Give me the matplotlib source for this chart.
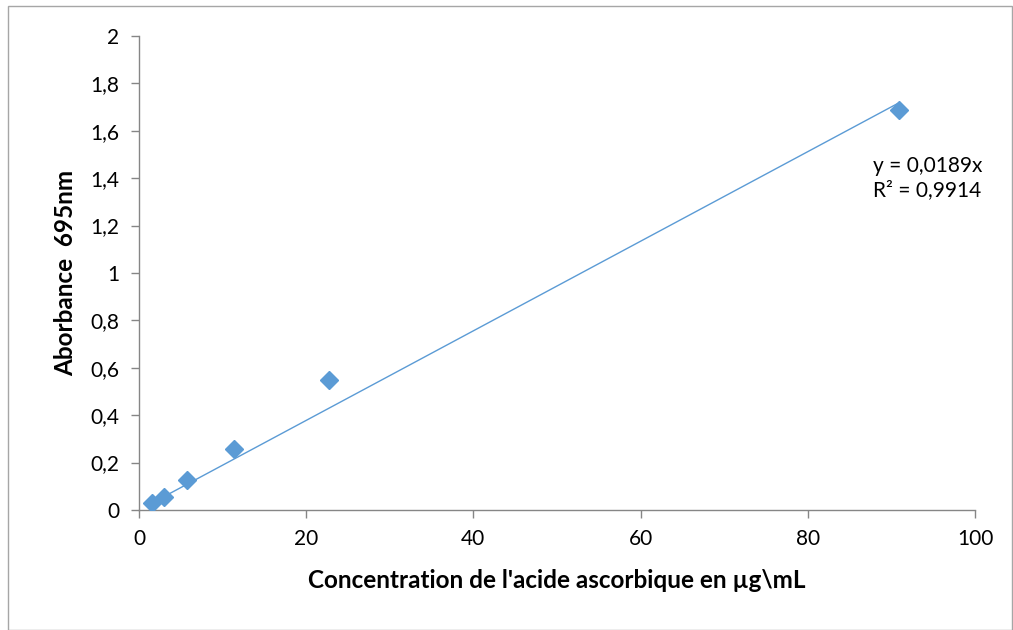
import matplotlib

matplotlib.use("Agg")
import matplotlib.pyplot as plt
import numpy as np
from matplotlib.patches import Rectangle
from matplotlib.ticker import FuncFormatter, MultipleLocator

plt.rcParams["font.family"] = ["Lato", "DejaVu Sans"]

# Ascorbic acid standard curve (µg/mL vs absorbance at 695 nm)
concentration = [1.5, 3.0, 5.7, 11.36, 22.7, 90.9]
absorbance = [0.03, 0.055, 0.127, 0.257, 0.548, 1.688]
slope = 0.0189
r_squared = 0.9914

blue = "#5B9BD5"
axis_grey = "#868686"

fig = plt.figure(figsize=(10.13, 6.30), dpi=100)
ax = fig.add_axes([0.1372, 0.1905, 0.8253, 0.7524])

x_fit = np.array([min(concentration), max(concentration)])
ax.plot(x_fit, slope * x_fit, color=blue, linewidth=1.0, zorder=2)
ax.plot(concentration, absorbance, linestyle="none", marker="D", markersize=9,
        color=blue, zorder=3)

ax.set_xlim(0, 100)
ax.set_ylim(0, 2)
ax.xaxis.set_major_locator(MultipleLocator(20))
ax.yaxis.set_major_locator(MultipleLocator(0.2))
comma = FuncFormatter(lambda v, _: f"{v:g}".replace(".", ","))
ax.xaxis.set_major_formatter(comma)
ax.yaxis.set_major_formatter(comma)

for side in ("top", "right"):
    ax.spines[side].set_visible(False)
for side in ("left", "bottom"):
    ax.spines[side].set_color(axis_grey)
    ax.spines[side].set_linewidth(1.0)
ax.tick_params(direction="out", length=6, width=1.0, color=axis_grey,
               labelsize=15, pad=8)

ax.set_xlabel("Concentration de l'acide ascorbique en µg\\mL", fontsize=17.5,
              fontweight="bold", labelpad=14)
ax.set_ylabel("Aborbance  695nm", fontsize=17.5, fontweight="bold", labelpad=10)

eq = f"y = {slope:g}x".replace(".", ",") + "\n" + f"R² = {r_squared:g}".replace(".", ",")
ax.text(87.8, 1.40, eq, fontsize=15, ha="left", va="center", linespacing=1.3)

# outer chart border
fig.patches.append(Rectangle((8 / 1013, 0), 1 - 9 / 1013, 1 - 6 / 630,
                             transform=fig.transFigure, fill=False,
                             edgecolor="#A6A6A6", linewidth=1.0))

fig.savefig("out.png", dpi=100)
